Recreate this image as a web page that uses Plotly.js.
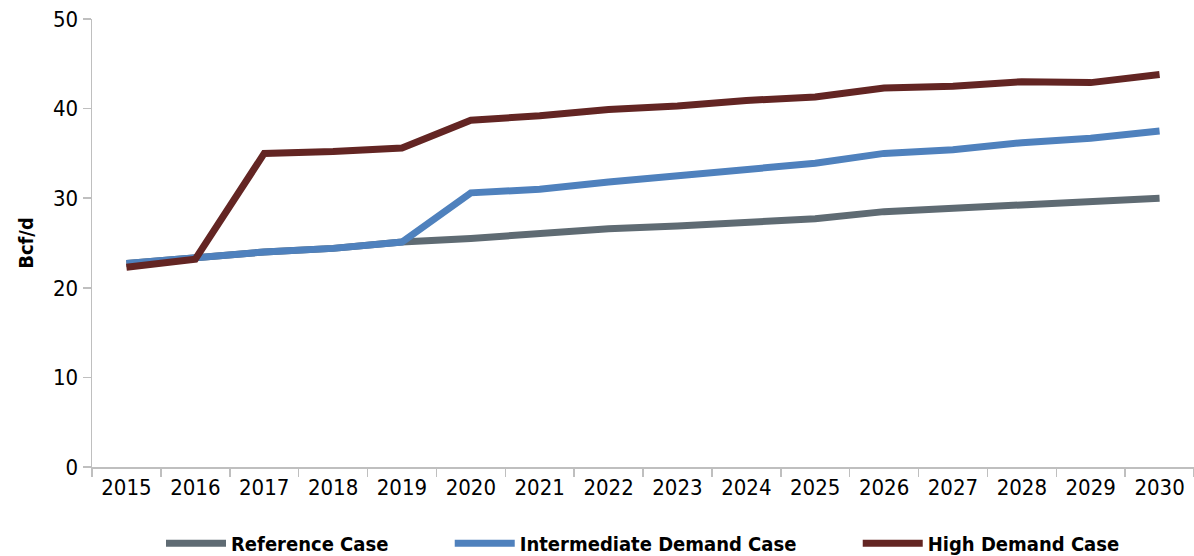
<!DOCTYPE html>
<html>
<head>
<meta charset="utf-8">
<script src="https://cdn.plot.ly/plotly-3.0.1.min.js"></script>
<style>html,body{margin:0;padding:0;background:#fff;}#chart{width:1194px;height:556px;}</style>
</head>
<body>
<div id="chart"></div>
<script>
const years = ["2015","2016","2017","2018","2019","2020","2021","2022","2023","2024","2025","2026","2027","2028","2029","2030"];
const referenceCase = [22.7,23.3,24.0,24.4,25.1,25.5,26.0,26.6,26.9,27.3,27.7,28.5,28.9,29.2,29.6,30.0];
const intermediateCase = [22.7,23.4,24.0,24.4,25.1,30.6,31.0,31.8,32.5,33.2,33.9,35.0,35.4,36.2,36.7,37.5];
const highCase = [22.3,23.2,35.0,35.2,35.6,38.7,39.2,39.9,40.3,40.9,41.3,42.3,42.5,43.0,42.9,43.8];
const seriesNames = ["Reference Case","Intermediate Demand Case","High Demand Case"];
const yTicks = [0,10,20,30,40,50];

const colors = ["#5f6b73","#4f81bd","#632523"];
const pad = "\u00a0".repeat(9);
const data = [referenceCase, intermediateCase, highCase].map((vals, i) => ({
  type: "scatter", mode: "lines", x: years, y: vals,
  name: seriesNames[i] + (i < 2 ? pad : ""),
  line: {color: colors[i], width: 7}
}));

const fontFam = '"DejaVu Sans Condensed", "DejaVu Sans", Arial, sans-serif';
const layout = {
  width: 1194, height: 556,
  margin: {l: 92, r: 0, t: 19, b: 89, autoexpand: false},
  paper_bgcolor: "#fff", plot_bgcolor: "#fff",
  font: {family: fontFam, color: "#000", size: 22},
  showlegend: true,
  legend: {orientation: "h", x: 0.5, xanchor: "center", y: -0.17, yanchor: "middle",
    itemwidth: 60, font: {family: fontFam, size: 20, weight: "bold"}, traceorder: "normal"},
  xaxis: {type: "category", range: [-0.5, 15.5], showgrid: false, zeroline: false,
    showline: true, linecolor: "#bfbfbf", linewidth: 1.5, ticks: "outside", tickcolor: "#bfbfbf",
    ticklen: 8, tickwidth: 1.5, tickson: "boundaries", tickfont: {size: 22}, fixedrange: true},
  yaxis: {range: [0, 50], tickvals: yTicks, showgrid: false, zeroline: false,
    showline: true, linecolor: "#bfbfbf", linewidth: 1.5, ticks: "outside", tickcolor: "#bfbfbf",
    ticklen: 8, tickwidth: 1.5, tickfont: {size: 22},
    title: {text: "Bcf/d", font: {size: 20, weight: "bold"}, standoff: 14}, fixedrange: true}
};
Plotly.newPlot("chart", data, layout, {displayModeBar: false, staticPlot: true});
</script>
</body>
</html>
